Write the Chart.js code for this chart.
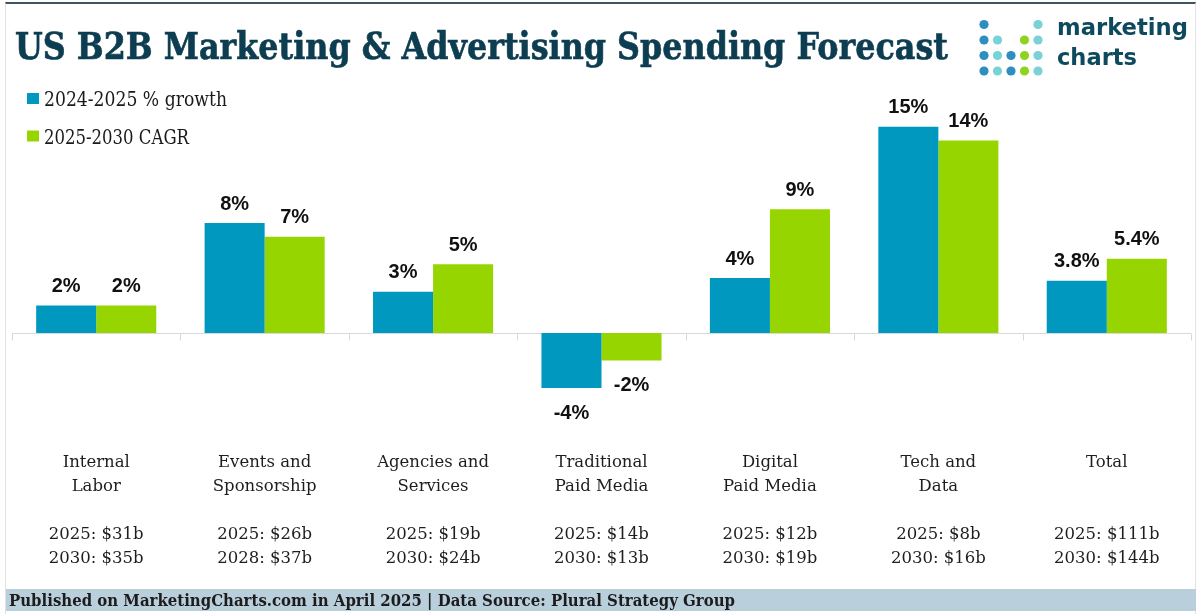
<!DOCTYPE html>
<html>
<head>
<meta charset="utf-8">
<script src="https://cdn.jsdelivr.net/npm/chart.js@4.4.1/dist/chart.umd.min.js"></script>
<style>
  html, body { margin: 0; padding: 0; background: #fff; }
  #wrap { position: relative; width: 1200px; height: 614px; overflow: hidden; background: #fff; }
  #frame { position: absolute; left: 5px; top: 2px; width: 1191px; height: 612px; box-sizing: border-box;
           border-top: 2px solid #3b5662; border-left: 1px solid #e3e3e3; border-right: 1px solid #e3e3e3; }
  #chart { position: absolute; left: 0; top: 0; }
  .fit { position: absolute; white-space: nowrap; transform-origin: 0 0; }
  #title { left: 15px; top: 27px; font: bold 38px/38px "DejaVu Serif"; color: #0d3d51; -webkit-text-stroke: 0.7px #0d3d51; }
  #footer { position: absolute; left: 6px; top: 589px; width: 1190px; height: 22px; background: #b9cfdc; }
  #footText { left: 9px; top: 590px; font: bold 16.5px/22px "DejaVu Serif"; color: #1c1c1c; }
  .logo { left: 1057px; font: bold 22.5px/30px "DejaVu Sans"; color: #0e4a5d; }
  #logo1 { top: 12px; }
  #logo2 { top: 42px; }
  #dots { position: absolute; left: 975px; top: 15px; }
</style>
</head>
<body>
<div id="wrap">
  <canvas id="chart" width="1200" height="614"></canvas>
  <div id="frame"></div>
  <div id="title" class="fit" data-w="933">US B2B Marketing &amp; Advertising Spending Forecast</div>
  <svg id="dots" width="72" height="66"></svg>
  <div id="logo1" class="fit logo" data-w="131">marketing</div>
  <div id="logo2" class="fit logo" data-w="80">charts</div>
  <div id="footer"></div>
  <div id="footText" class="fit" data-w="726">Published on MarketingCharts.com in April 2025 | Data Source: Plural Strategy Group</div>
</div>
<script>
// chart data
var categories = [
  ['Internal', 'Labor'],
  ['Events and', 'Sponsorship'],
  ['Agencies and', 'Services'],
  ['Traditional', 'Paid Media'],
  ['Digital', 'Paid Media'],
  ['Tech and', 'Data'],
  ['Total']
];
var spendFirst = ['2025: $31b', '2025: $26b', '2025: $19b', '2025: $14b', '2025: $12b', '2025: $8b', '2025: $111b'];
var spendSecond = ['2030: $35b', '2028: $37b', '2030: $24b', '2030: $13b', '2030: $19b', '2030: $16b', '2030: $144b'];
var seriesNames = ['2024-2025 % growth', '2025-2030 CAGR'];
var growth2425 = [2, 8, 3, -4, 4, 15, 3.8];
var cagr2530 = [2, 7, 5, -2, 9, 14, 5.4];
var seriesColors = ['#0098be', '#97d500'];

// fit the html texts to the widths in the picture
var fits = document.querySelectorAll('.fit');
for (var i = 0; i < fits.length; ++i) {
  var el = fits[i];
  var w = el.getBoundingClientRect().width;
  el.style.transform = 'scaleX(' + (parseFloat(el.dataset.w) / w) + ')';
}

// logo dots
var dotRows = [
  ['b', '', '', '', 't'],
  ['b', 't', '', 'g', 't'],
  ['b', 't', 'b', 'g', 't'],
  ['b', 't', 'b', 'g', 't']
];
var dotColors = { b: '#2d8fc0', t: '#78d2d6', g: '#8fd31f' };
var svg = document.getElementById('dots');
var dotsHtml = '';
for (var r = 0; r < dotRows.length; ++r) {
  for (var c = 0; c < dotRows[r].length; ++c) {
    if (!dotRows[r][c]) {
      continue;
    }
    dotsHtml += '<circle cx="' + (9 + c * 13.5) + '" cy="' + (9.5 + r * 15.5) + '" r="4.6" fill="' + dotColors[dotRows[r][c]] + '"/>';
  }
}
svg.innerHTML = dotsHtml;

var labels = [];
for (var i = 0; i < categories.length; ++i) {
  var lines = categories[i].slice();
  if (lines.length < 2) {
    lines.push('');
  }
  lines.push('', spendFirst[i], spendSecond[i]);
  labels.push(lines);
}

var zeroLinePlugin = {
  id: 'zeroLine',
  beforeDatasetsDraw: function (chart) {
    var ctx = chart.ctx;
    var xs = chart.scales.x;
    var y0 = Math.round(chart.scales.y.getPixelForValue(0)) + 0.5;
    ctx.save();
    ctx.strokeStyle = '#d9d9d9';
    ctx.lineWidth = 1;
    ctx.beginPath();
    ctx.moveTo(xs.left, y0);
    ctx.lineTo(xs.right, y0);
    var step = xs.width / categories.length;
    for (var i = 0; i <= categories.length; ++i) {
      var x = Math.round(xs.left + step * i) + 0.5;
      ctx.moveTo(x, y0);
      ctx.lineTo(x, y0 + 7);
    }
    ctx.stroke();
    ctx.restore();
  }
};

var valueLabelPlugin = {
  id: 'valueLabels',
  afterDatasetsDraw: function (chart) {
    var ctx = chart.ctx;
    ctx.save();
    ctx.font = 'bold 20px "Liberation Sans"';
    ctx.fillStyle = '#111';
    ctx.textAlign = 'center';
    ctx.textBaseline = 'middle';
    chart.data.datasets.forEach(function (ds, di) {
      var meta = chart.getDatasetMeta(di);
      meta.data.forEach(function (bar, i) {
        var v = ds.data[i];
        var y = v >= 0 ? bar.y - 19 : bar.y + 25;
        ctx.fillText(v + '%', bar.x, y);
      });
    });
    ctx.restore();
  }
};

var sideLegendPlugin = {
  id: 'sideLegend',
  afterDraw: function (chart) {
    var ctx = chart.ctx;
    ctx.save();
    ctx.font = '20px "DejaVu Serif"';
    ctx.fillStyle = '#1a1a1a';
    ctx.textBaseline = 'alphabetic';
    var targetW = [183, 145];
    chart.data.datasets.forEach(function (ds, i) {
      var cy = 98.5 + i * 37.5;
      ctx.fillStyle = ds.backgroundColor;
      ctx.fillRect(27, cy - 5.5, 12, 11);
      ctx.fillStyle = '#1a1a1a';
      var w = ctx.measureText(ds.label).width;
      ctx.save();
      ctx.translate(44, cy + 7.5);
      ctx.scale(targetW[i] / w, 1);
      ctx.fillText(ds.label, 0, 0);
      ctx.restore();
    });
    ctx.restore();
  }
};

new Chart(document.getElementById('chart').getContext('2d'), {
  type: 'bar',
  data: {
    labels: labels,
    datasets: [
      { label: seriesNames[0], data: growth2425, backgroundColor: seriesColors[0], borderWidth: 0 },
      { label: seriesNames[1], data: cagr2530, backgroundColor: seriesColors[1], borderWidth: 0 }
    ]
  },
  options: {
    responsive: false,
    animation: false,
    devicePixelRatio: 1,
    layout: { padding: { left: 12, right: 9, top: 113, bottom: 0 } },
    datasets: {
      bar: { categoryPercentage: 0.713, barPercentage: 1 }
    },
    plugins: {
      legend: { display: false },
      tooltip: { enabled: false }
    },
    scales: {
      x: {
        grid: { display: false, drawTicks: false },
        border: { display: false },
        ticks: {
          autoSkip: false,
          maxRotation: 0,
          padding: 8,
          color: '#1e1e1e',
          font: { family: '"DejaVu Serif"', size: 16.5, lineHeight: '24px' }
        },
        afterFit: function (scale) {
          scale.height = 171;
        }
      },
      y: {
        display: false,
        min: -8,
        max: 16
      }
    }
  },
  plugins: [zeroLinePlugin, valueLabelPlugin, sideLegendPlugin]
});
</script>
</body>
</html>
